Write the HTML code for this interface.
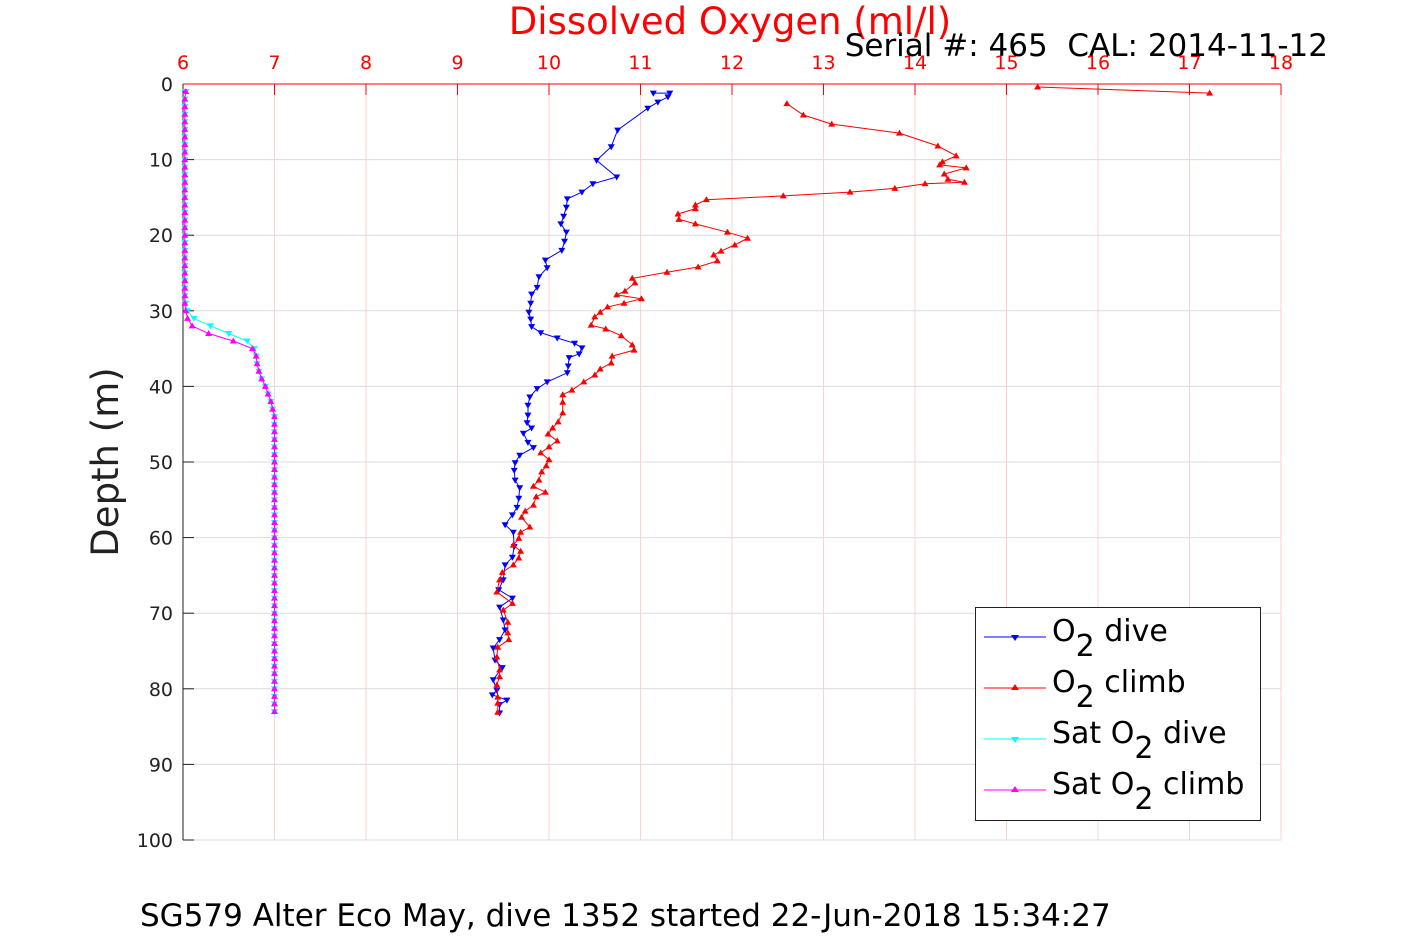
<!DOCTYPE html>
<html><head><meta charset="utf-8"><style>
body{margin:0;background:#fff;}
svg{display:block;font-family:"DejaVu Sans","Liberation Sans",sans-serif;}
</style></head><body>
<svg id="chart" width="1417" height="945" viewBox="0 0 1417 945" xmlns="http://www.w3.org/2000/svg">
<rect width="1417" height="945" fill="#fff"/>
<g id="grid"></g>
<g id="axes"></g>
<g id="series"></g>
<text x="730" y="34" font-size="37" fill="#ff0000" text-anchor="middle">Dissolved Oxygen (ml/l)</text>
<text x="1328" y="56" font-size="31" fill="#000" text-anchor="end">Serial #: 465 &#160;CAL: 2014-11-12</text>
<text x="0" y="0" font-size="37" fill="#222" text-anchor="middle" transform="translate(118,462) rotate(-90)">Depth (m)</text>
<text x="140" y="926" font-size="31" fill="#000">SG579 Alter Eco May, dive 1352 started 22-Jun-2018 15:34:27</text>
<g>
<rect x="975.5" y="607.5" width="285" height="213" fill="#fff" stroke="#222" stroke-width="1"/>
<g><line x1="984" y1="637" x2="1046" y2="637" stroke="#0000ff"/><path d="M1011,635 L1019,635 L1015,641 Z" fill="#0000ff"/><text x="1052" y="641" font-size="30">O<tspan dy="15">2</tspan><tspan dy="-15"> dive</tspan></text></g>
<g><line x1="984" y1="688" x2="1046" y2="688" stroke="#ff0000"/><path d="M1011,690 L1019,690 L1015,684 Z" fill="#ff0000"/><text x="1052" y="692" font-size="30">O<tspan dy="15">2</tspan><tspan dy="-15"> climb</tspan></text></g>
<g><line x1="984" y1="739" x2="1046" y2="739" stroke="#00ffff"/><path d="M1011,737 L1019,737 L1015,743 Z" fill="#00ffff"/><text x="1052" y="743" font-size="30">Sat O<tspan dy="15">2</tspan><tspan dy="-15"> dive</tspan></text></g>
<g><line x1="984" y1="790" x2="1046" y2="790" stroke="#ff00ff"/><path d="M1011,792 L1019,792 L1015,786 Z" fill="#ff00ff"/><text x="1052" y="794" font-size="30">Sat O<tspan dy="15">2</tspan><tspan dy="-15"> climb</tspan></text></g>
</g>
</svg>
<script>
const xTicks=[6,7,8,9,10,11,12,13,14,15,16,17,18];
const yTicks=[0,10,20,30,40,50,60,70,80,90,100];
const o2DiveVal=[11.14,11.32,11.30,11.19,11.08,10.75,10.68,10.52,10.74,10.48,10.36,10.20,10.19,10.16,10.13,10.19,10.17,10.14,9.96,9.98,9.89,9.87,9.81,9.80,9.78,9.80,9.81,9.91,10.09,10.28,10.36,10.33,10.22,10.21,10.20,9.98,9.87,9.79,9.77,9.77,9.76,9.81,9.72,9.77,9.83,9.68,9.63,9.62,9.63,9.68,9.67,9.65,9.60,9.52,9.61,9.62,9.60,9.52,9.50,9.45,9.60,9.46,9.50,9.52,9.46,9.39,9.41,9.49,9.39,9.43,9.38,9.54,9.46,9.46];
const o2DiveDepth=[1.2,1.2,1.7,2.4,3.2,6.1,8.3,10.1,12.3,13.2,14.3,15.2,16.3,17.5,18.5,19.6,20.8,22.0,23.3,24.3,25.5,26.9,27.8,29.0,30.2,31.1,32.1,32.9,33.6,34.3,34.9,35.7,36.2,37.3,38.2,39.4,40.3,41.4,42.5,43.8,44.8,45.5,46.2,47.4,48.1,49.1,50.1,51.1,52.4,53.4,54.8,56.0,57.0,58.3,59.3,61.2,62.6,63.6,65.6,66.9,68.0,69.2,70.9,72.2,73.5,74.6,76.2,77.2,78.8,80.2,80.8,81.5,82.1,83.2];
const o2ClimbVal=[17.22,15.34,null,12.60,12.78,13.09,13.83,14.25,14.45,14.30,14.27,14.56,14.32,14.36,14.54,14.11,13.78,13.29,12.56,11.72,11.60,11.60,11.41,11.42,11.60,11.95,12.17,12.03,11.88,11.80,11.84,11.63,11.29,10.91,10.94,10.83,10.74,11.01,10.82,10.64,10.56,10.50,10.46,10.62,10.79,10.91,10.93,10.69,10.68,10.56,10.50,10.38,10.25,10.15,10.15,10.15,10.10,10.04,9.99,10.09,10.00,9.91,10.00,9.97,9.92,9.89,9.83,9.96,9.86,9.83,9.74,9.70,9.79,9.69,9.67,9.61,9.69,9.67,9.61,9.49,9.46,9.43,9.60,9.50,9.55,9.55,9.56,9.44,9.43,9.46,9.46,9.43,9.44,9.44,9.44];
const o2ClimbDepth=[1.2,0.4,null,2.6,4.1,5.3,6.5,8.2,9.5,10.3,10.7,11.1,11.9,12.6,13.0,13.2,13.8,14.3,14.8,15.3,16.0,16.5,17.2,17.9,18.5,19.6,20.4,21.3,22.1,22.6,23.4,24.2,24.9,25.7,26.3,27.4,27.9,28.4,29.0,29.5,30.2,30.8,31.9,32.4,33.3,34.5,35.2,36.0,36.9,37.7,38.5,39.4,40.5,41.1,42.1,43.5,44.7,45.5,46.3,47.2,48.0,48.8,49.7,50.5,51.3,52.4,53.2,54.0,54.6,55.7,56.5,57.3,58.6,59.3,60.1,61.0,61.8,62.7,63.6,64.6,65.6,67.2,68.7,69.6,71.2,72.6,73.5,74.5,75.8,77.5,78.4,79.5,81.1,81.9,83.1];
const satDepth=[1,2,3,4,5,6,7,8,9,10,11,12,13,14,15,16,17,18,19,20,21,22,23,24,25,26,27,28,29,30,31,32,33,34,35,36,37,38,39,40,41,42,43,44,45,46,47,48,49,50,51,52,53,54,55,56,57,58,59,60,61,62,63,64,65,66,67,68,69,70,71,72,73,74,75,76,77,78,79,80,81,82,83];
const satDiveVal=[6.03,6.02,6.02,6.02,6.02,6.02,6.02,6.02,6.02,6.02,6.02,6.02,6.02,6.02,6.02,6.02,6.02,6.02,6.02,6.02,6.02,6.02,6.02,6.02,6.02,6.02,6.02,6.02,6.03,6.05,6.12,6.3,6.5,6.7,6.78,6.8,6.81,6.83,6.86,6.9,6.93,6.96,6.98,7.0,7.0,7.0,7.0,7.0,7.0,7.0,7.0,7.0,7.0,7.0,7.0,7.0,7.0,7.0,7.0,7.0,7.0,7.0,7.0,7.0,7.0,7.0,7.0,7.0,7.0,7.0,7.0,7.0,7.0,7.0,7.0,7.0,7.0,7.0,7.0,7.0,7.0,7.0,7.0];
const satClimbVal=[6.03,6.02,6.02,6.02,6.02,6.02,6.02,6.02,6.02,6.02,6.02,6.02,6.02,6.02,6.02,6.02,6.02,6.02,6.02,6.02,6.02,6.02,6.02,6.02,6.02,6.02,6.02,6.02,6.02,6.03,6.05,6.1,6.28,6.55,6.76,6.8,6.81,6.83,6.86,6.9,6.93,6.96,6.98,7.0,7.0,7.0,7.0,7.0,7.0,7.0,7.0,7.0,7.0,7.0,7.0,7.0,7.0,7.0,7.0,7.0,7.0,7.0,7.0,7.0,7.0,7.0,7.0,7.0,7.0,7.0,7.0,7.0,7.0,7.0,7.0,7.0,7.0,7.0,7.0,7.0,7.0,7.0,7.0];

const NS='http://www.w3.org/2000/svg';
const X0=183,X1=1281,Y0=84,Y1=840;
function sx(v){return X0+(v-6)/(18-6)*(X1-X0);}
function sy(d){return Y0+d/100*(Y1-Y0);}
function mk(tag,attrs,parent){const e=document.createElementNS(NS,tag);for(const k in attrs)e.setAttribute(k,attrs[k]);parent.appendChild(e);return e;}
const grid=document.getElementById('grid'),axes=document.getElementById('axes'),series=document.getElementById('series');
xTicks.forEach(t=>{
  const l=mk('line',{x1:sx(t),x2:sx(t),y1:Y0,y2:Y1,stroke:'#ffd0d0','stroke-width':1},grid);
  
  
  const tk=mk('line',{x1:sx(t),x2:sx(t),y1:Y0,y2:Y0+11,stroke:'#ff0000','stroke-width':1},axes);
  
  
  const tx=mk('text',{x:sx(t),y:69,'font-size':19,fill:'#ff0000','text-anchor':'middle'},axes);
  tx.textContent=t;
  
  
});
yTicks.forEach(t=>{
  const l=mk('line',{x1:X0,x2:X1,y1:sy(t),y2:sy(t),stroke:'#dcdcdc','stroke-width':1},grid);
  
  
  const tk=mk('line',{x1:X0,x2:X0+11,y1:sy(t),y2:sy(t),stroke:'#222','stroke-width':1},axes);
  
  
  const tx=mk('text',{x:X0-10,y:sy(t)+7,'font-size':19,fill:'#222','text-anchor':'end'},axes);
  tx.textContent=t;
  
  
});
const ya=mk('line',{x1:X0,x2:X0,y1:Y0,y2:Y1,stroke:'#222'},axes);


const xa=mk('line',{x1:X0,x2:X1,y1:Y0,y2:Y0,stroke:'#ff0000'},axes);


function drawSeries(vals,deps,color,down,name){
  const g=mk('g',{},series);
  
  
  let d='',pen=false;
  for(let i=0;i<vals.length;i++){
    if(vals[i]===null){pen=false;continue;}
    d+=(pen?'L':'M')+sx(vals[i]).toFixed(1)+','+sy(deps[i]).toFixed(1);pen=true;
  }
  mk('path',{d:d,fill:'none',stroke:color,'stroke-width':1},g);
  for(let i=0;i<vals.length;i++){
    if(vals[i]===null)continue;
    const x=sx(vals[i]),y=sy(deps[i]);
    const p=down?`M${x-3.5},${y-2.5}L${x+3.5},${y-2.5}L${x},${y+3.5}Z`:`M${x-3.5},${y+2.5}L${x+3.5},${y+2.5}L${x},${y-3.5}Z`;
    const m=mk('path',{d:p,fill:color},g);
    
    
  }
}
drawSeries(satDiveVal,satDepth,'#00ffff',true,'sat-o2-dive-series');
drawSeries(satClimbVal,satDepth,'#ff00ff',false,'sat-o2-climb-series');
drawSeries(o2DiveVal,o2DiveDepth,'#0000ff',true,'o2-dive-series');
drawSeries(o2ClimbVal,o2ClimbDepth,'#ff0000',false,'o2-climb-series');
</script>
</body></html>
